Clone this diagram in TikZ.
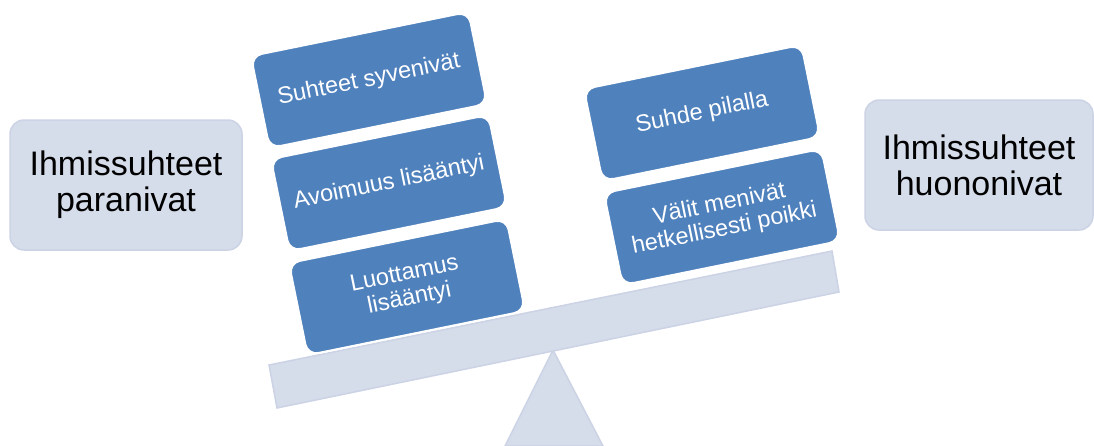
\documentclass[tikz,border=0pt]{standalone}
\usepackage{fontspec}
\setmainfont{Liberation Sans}
\definecolor{scaleblue}{HTML}{4F81BD}
\definecolor{scalegrey}{HTML}{D5DCEA}
\definecolor{scaleedge}{HTML}{CBD3E5}
\tikzset{
	weight/.style={fill=scaleblue, draw=white, line width=2pt, rounded corners=11pt, rotate=11.5, minimum width=222pt, minimum height=94pt, inner sep=0pt, text=white, align=center, font=\fontsize{23.5}{25}\selectfont},
	side/.style={fill=scalegrey, draw=scaleedge, line width=1.5pt, rounded corners=14pt, minimum height=130pt, inner sep=0pt, align=center, font=\fontsize{34}{36}\selectfont},
}

\begin{document}
\begin{tikzpicture}[x=1pt, y=-1pt]
			%%%%% START %%%%%
			\useasboundingbox (0, 0) rectangle (1094, 445);
			
			\draw[fill=scalegrey, draw=scaleedge, line width=1.5pt] (553, 350) -- (603, 446) -- (505, 446) -- cycle;
			\draw[fill=scalegrey, draw=scaleedge, line width=1.5pt] (269, 365) -- (832, 251) -- (839, 292) -- (277, 408) -- cycle;
			
			\node[side, minimum width=232pt] (better) at (126, 185) {Ihmissuhteet\\paranivat};
			\node[side, minimum width=228pt] (worse) at (979, 165) {Ihmissuhteet\\huononivat};
			
			\node[weight] (trust) at (407, 287) {Luottamus\\lisääntyi};
			\node[weight] (open) at (389, 183) {Avoimuus lisääntyi};
			\node[weight] (deep) at (369, 80) {Suhteet syvenivät};
			
			\node[weight] (apart) at (722, 217) {Välit menivät\\hetkellisesti poikki};
			\node[weight] (ruined) at (702, 113) {Suhde pilalla};
			
			%%%%% END %%%%%
		\end{tikzpicture}
\end{document}
